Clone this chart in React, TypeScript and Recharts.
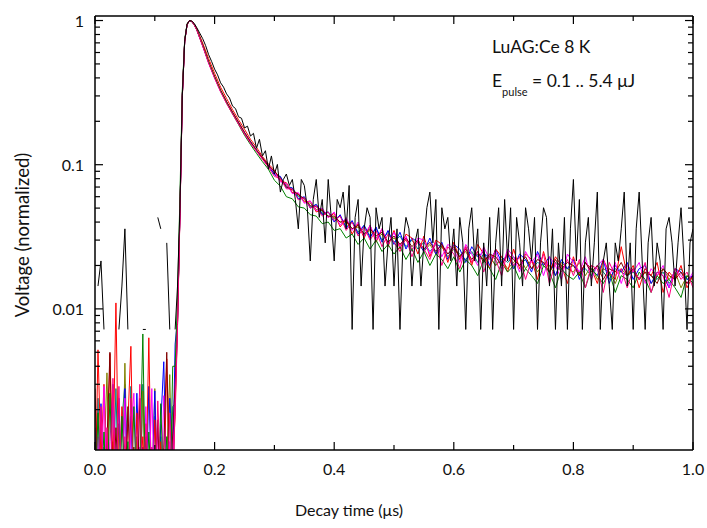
import React from 'react';
import { LineChart, Line, XAxis, YAxis } from 'recharts';

// sampling grids (µs)
const preTimes = [
  0, 0.005, 0.01, 0.015, 0.02, 0.025, 0.03, 0.035, 0.04, 0.045,
  0.05, 0.055, 0.06, 0.065, 0.07, 0.075, 0.08, 0.085, 0.09, 0.095,
  0.1, 0.105, 0.11, 0.115, 0.12, 0.125, 0.13,
];
const riseTimes = [0.134, 0.138, 0.142, 0.146, 0.15, 0.154, 0.158, 0.162, 0.166, 0.17];
const colorTailTimes = [
  0.18, 0.19, 0.2, 0.21, 0.22, 0.23, 0.24, 0.25, 0.26, 0.27,
  0.28, 0.29, 0.3, 0.31, 0.32, 0.33, 0.34, 0.35, 0.36, 0.37,
  0.38, 0.39, 0.4, 0.41, 0.42, 0.43, 0.44, 0.45, 0.46, 0.47,
  0.48, 0.49, 0.5, 0.51, 0.52, 0.53, 0.54, 0.55, 0.56, 0.57,
  0.58, 0.59, 0.6, 0.61, 0.62, 0.63, 0.64, 0.65, 0.66, 0.67,
  0.68, 0.69, 0.7, 0.71, 0.72, 0.73, 0.74, 0.75, 0.76, 0.77,
  0.78, 0.79, 0.8, 0.81, 0.82, 0.83, 0.84, 0.85, 0.86, 0.87,
  0.88, 0.89, 0.9, 0.91, 0.92, 0.93, 0.94, 0.95, 0.96, 0.97,
  0.98, 0.99, 1.0,
];
const blackTailTimes = [
  0.175, 0.18, 0.185, 0.19, 0.195, 0.2, 0.205, 0.21, 0.215, 0.22,
  0.225, 0.23, 0.235, 0.24, 0.245, 0.25, 0.255, 0.26, 0.265, 0.27,
  0.275, 0.28, 0.285, 0.29, 0.295, 0.3, 0.305, 0.31, 0.315, 0.32,
  0.325, 0.33, 0.335, 0.34, 0.345, 0.35, 0.355, 0.36, 0.365, 0.37,
  0.375, 0.38, 0.385, 0.39, 0.395, 0.4, 0.405, 0.41, 0.415, 0.42,
  0.425, 0.43, 0.435, 0.44, 0.445, 0.45, 0.455, 0.46, 0.465, 0.47,
  0.475, 0.48, 0.485, 0.49, 0.495, 0.5, 0.505, 0.51, 0.515, 0.52,
  0.525, 0.53, 0.535, 0.54, 0.545, 0.55, 0.555, 0.56, 0.565, 0.57,
  0.575, 0.58, 0.585, 0.59, 0.595, 0.6, 0.605, 0.61, 0.615, 0.62,
  0.625, 0.63, 0.635, 0.64, 0.645, 0.65, 0.655, 0.66, 0.665, 0.67,
  0.675, 0.68, 0.685, 0.69, 0.695, 0.7, 0.705, 0.71, 0.715, 0.72,
  0.725, 0.73, 0.735, 0.74, 0.745, 0.75, 0.755, 0.76, 0.765, 0.77,
  0.775, 0.78, 0.785, 0.79, 0.795, 0.8, 0.805, 0.81, 0.815, 0.82,
  0.825, 0.83, 0.835, 0.84, 0.845, 0.85, 0.855, 0.86, 0.865, 0.87,
  0.875, 0.88, 0.885, 0.89, 0.895, 0.9, 0.905, 0.91, 0.915, 0.92,
  0.925, 0.93, 0.935, 0.94, 0.945, 0.95, 0.955, 0.96, 0.965, 0.97,
  0.975, 0.98, 0.985, 0.99, 0.995, 1.0,
];

const colorTimes = [...preTimes, ...riseTimes, ...colorTailTimes];
const blackTimes = [...preTimes, ...riseTimes, ...blackTailTimes];

// lowest pulse energy, digitizer steps (null = zero signal)
const blackVolts = [
  null, 0.0144, 0.0215, 0.0072, null, null, null, null, 0.0072, 0.0144,
  0.0359, 0.0072, null, null, null, null, 0.0072, 0.0072, null, null,
  null, 0.0431, 0.0359, null, 0.0287, 0.0072, null,
  0.0072, 0.0144, 0.05, 0.3, 0.72, 0.94, 1.0, 0.99, 0.955, 0.895,
  0.82, 0.75, 0.67, 0.58, 0.52, 0.46, 0.42, 0.37, 0.345, 0.31,
  0.29, 0.255, 0.245, 0.215, 0.21, 0.18, 0.185, 0.158, 0.165, 0.13,
  0.15, 0.115, 0.125, 0.093, 0.115, 0.0862, 0.1005, 0.0646, 0.079, 0.0862,
  0.0718, 0.079, 0.0574, 0.0359, 0.079, 0.0718, 0.0503, 0.0215, 0.0574, 0.079,
  0.0431, 0.0574, 0.0287, 0.079, 0.0431, 0.0215, 0.0574, 0.0503, 0.0646, 0.0359,
  0.0718, 0.0072, 0.0431, 0.0574, 0.0144, 0.0359, 0.0503, 0.0431, 0.0072, 0.0503,
  0.0359, 0.0431, 0.0144, 0.0287, 0.0431, 0.0144, 0.0359, 0.0072, 0.0287, 0.0431,
  0.0359, 0.0144, 0.0287, 0.0359, 0.0144, 0.0287, 0.0503, 0.0646, 0.0287, 0.0574,
  0.0072, 0.0503, 0.0359, 0.0431, 0.0215, 0.0359, 0.0144, 0.0431, 0.0287, 0.0072,
  0.0359, 0.0503, 0.0215, 0.0359, 0.0072, 0.0287, 0.0144, 0.0431, 0.0072, 0.0287,
  0.0503, 0.0144, 0.0574, 0.0215, 0.0503, 0.0072, 0.0431, 0.0287, 0.0144, 0.0503,
  0.0359, 0.0215, 0.0431, 0.0072, 0.0287, 0.0503, 0.0431, 0.0144, 0.0359, 0.0072,
  0.0287, 0.0144, 0.0431, 0.0072, 0.0359, 0.079, 0.0215, 0.0574, 0.0072, 0.0287,
  0.0431, 0.0144, 0.0287, 0.0646, 0.0072, 0.0215, 0.0287, 0.0144, 0.0072, 0.0287,
  0.0215, 0.0359, 0.0646, 0.0144, 0.0287, 0.0072, 0.0359, 0.0646, 0.0215, 0.0072,
  0.0287, 0.0431, 0.0144, 0.0287, 0.0215, 0.0072, 0.0359, 0.0431, 0.0287, 0.0144,
  0.0287, 0.0503, 0.0215, 0.0072, 0.0287, 0.0359,
];

const redVolts = [
  0.0004, 0.0052, 0.0009, 0.003, 0.0006, 0.0049, 0.0008, 0.011, 0.0005, 0.0021,
  0.0007, 0.0016, 0.0055, 0.0004, 0.0019, 0.0006, 0.0013, 0.0005, 0.0063, 0.0004,
  0.0017, 0.0006, 0.0012, 0.0004, 0.0045, 0.0007, 0.0009,
  0.0018, 0.0075, 0.043, 0.29, 0.71, 0.93, 1.0, 0.99, 0.945, 0.885,
  0.7, 0.545, 0.43, 0.345, 0.288, 0.241, 0.205, 0.176, 0.15, 0.132, 0.114, 0.101,
  0.092, 0.077, 0.075, 0.064, 0.063, 0.055, 0.056, 0.047, 0.049, 0.043,
  0.046, 0.037, 0.042, 0.033, 0.039, 0.031, 0.038, 0.029, 0.036, 0.027,
  0.035, 0.026, 0.033, 0.031, 0.024, 0.032, 0.023, 0.03, 0.028, 0.021,
  0.029, 0.022, 0.027, 0.02, 0.028, 0.024, 0.019, 0.026, 0.023, 0.018,
  0.026, 0.019, 0.024, 0.022, 0.016, 0.025, 0.018, 0.023, 0.02, 0.015,
  0.023, 0.017, 0.021, 0.019, 0.015, 0.022, 0.018, 0.016, 0.027, 0.017,
  0.02, 0.014, 0.019, 0.017, 0.021, 0.013, 0.018, 0.016, 0.02, 0.014, 0.017,
];

const blueVolts = [
  0.0015, 0.0004, 0.0022, 0.0005, 0.0012, 0.0004, 0.003, 0.0006, 0.0024, 0.0004,
  0.0028, 0.0005, 0.0018, 0.0004, 0.0026, 0.0006, 0.0011, 0.0004, 0.0029, 0.0005,
  0.0027, 0.0004, 0.0016, 0.0043, 0.0005, 0.0024, 0.0008,
  0.0057, 0.0085, 0.046, 0.3, 0.72, 0.94, 1.0, 0.985, 0.935, 0.87,
  0.672, 0.512, 0.403, 0.325, 0.272, 0.229, 0.195, 0.166, 0.144, 0.126, 0.111, 0.099,
  0.085, 0.083, 0.069, 0.069, 0.058, 0.06, 0.05, 0.053, 0.045, 0.047,
  0.04, 0.045, 0.036, 0.041, 0.033, 0.038, 0.031, 0.037, 0.029, 0.035,
  0.028, 0.034, 0.026, 0.031, 0.029, 0.025, 0.031, 0.024, 0.029, 0.022,
  0.028, 0.026, 0.021, 0.027, 0.023, 0.025, 0.02, 0.026, 0.021, 0.024,
  0.019, 0.024, 0.022, 0.018, 0.025, 0.02, 0.023, 0.017, 0.022, 0.019,
  0.022, 0.016, 0.021, 0.019, 0.017, 0.022, 0.015, 0.02, 0.018, 0.021,
  0.016, 0.019, 0.02, 0.015, 0.018, 0.017, 0.014, 0.019, 0.018, 0.016, 0.017,
];

const greenVolts = [
  0.0004, 0.0019, 0.0005, 0.0014, 0.0004, 0.0026, 0.0005, 0.0009, 0.0004, 0.0018,
  0.0006, 0.0012, 0.0004, 0.0021, 0.0005, 0.0008, 0.0067, 0.0004, 0.0014, 0.0005,
  0.001, 0.0004, 0.0022, 0.0005, 0.0013, 0.0004, 0.004,
  0.004, 0.012, 0.06, 0.33, 0.74, 0.95, 1.0, 0.98, 0.93, 0.865,
  0.675, 0.515, 0.405, 0.325, 0.268, 0.225, 0.19, 0.16, 0.138, 0.12, 0.105, 0.093,
  0.078, 0.071, 0.06, 0.058, 0.051, 0.05, 0.045, 0.044, 0.039, 0.04,
  0.035, 0.036, 0.031, 0.033, 0.028, 0.031, 0.026, 0.03, 0.025, 0.028,
  0.024, 0.027, 0.022, 0.026, 0.021, 0.025, 0.02, 0.024, 0.022, 0.019,
  0.023, 0.018, 0.022, 0.02, 0.017, 0.022, 0.019, 0.016, 0.021, 0.018,
  0.02, 0.016, 0.019, 0.017, 0.015, 0.02, 0.018, 0.014, 0.019, 0.017,
  0.016, 0.018, 0.014, 0.019, 0.017, 0.015, 0.018, 0.013, 0.017, 0.016,
  0.014, 0.018, 0.016, 0.013, 0.017, 0.015, 0.016, 0.014, 0.012, 0.017, 0.015,
];

const magentaVolts = [
  0.0006, 0.0013, 0.0004, 0.0029, 0.0005, 0.0012, 0.0028, 0.0004, 0.001, 0.0005,
  0.0024, 0.0004, 0.0014, 0.0026, 0.0005, 0.0011, 0.0004, 0.0021, 0.0005, 0.0028,
  0.0004, 0.0015, 0.0005, 0.0025, 0.0004, 0.0012, 0.0006,
  0.0024, 0.008, 0.044, 0.3, 0.72, 0.94, 1.0, 0.982, 0.93, 0.865,
  0.668, 0.508, 0.4, 0.322, 0.268, 0.227, 0.193, 0.165, 0.142, 0.125, 0.11, 0.097,
  0.089, 0.076, 0.074, 0.063, 0.064, 0.054, 0.056, 0.048, 0.05, 0.043,
  0.047, 0.038, 0.043, 0.035, 0.04, 0.032, 0.038, 0.03, 0.036, 0.028,
  0.034, 0.027, 0.032, 0.025, 0.031, 0.03, 0.024, 0.029, 0.023, 0.028,
  0.026, 0.021, 0.028, 0.024, 0.02, 0.027, 0.022, 0.025, 0.019, 0.026,
  0.023, 0.018, 0.025, 0.021, 0.024, 0.017, 0.023, 0.02, 0.016, 0.024,
  0.021, 0.018, 0.023, 0.016, 0.02, 0.022, 0.017, 0.021, 0.015, 0.02,
  0.018, 0.021, 0.015, 0.019, 0.017, 0.02, 0.014, 0.019, 0.017, 0.015, 0.018,
];

const pinkVolts = [
  0.001, 0.0005, 0.0021, 0.0004, 0.0015, 0.0004, 0.0033, 0.0005, 0.0029, 0.0004,
  0.0013, 0.0005, 0.0024, 0.0004, 0.0009, 0.003, 0.0004, 0.0016, 0.0005, 0.0011,
  0.0004, 0.0023, 0.0006, 0.001, 0.0004, 0.0019, 0.0005,
  0.0021, 0.0078, 0.045, 0.3, 0.72, 0.94, 1.0, 0.98, 0.928, 0.862,
  0.665, 0.505, 0.398, 0.32, 0.266, 0.225, 0.191, 0.163, 0.141, 0.124, 0.109, 0.096,
  0.083, 0.08, 0.068, 0.068, 0.057, 0.059, 0.05, 0.052, 0.044, 0.047,
  0.041, 0.044, 0.035, 0.04, 0.032, 0.037, 0.03, 0.035, 0.027, 0.033,
  0.029, 0.025, 0.031, 0.023, 0.03, 0.026, 0.022, 0.029, 0.02, 0.027,
  0.024, 0.019, 0.027, 0.021, 0.025, 0.018, 0.024, 0.022, 0.017, 0.025,
  0.02, 0.023, 0.016, 0.022, 0.019, 0.024, 0.015, 0.021, 0.018, 0.022,
  0.017, 0.022, 0.014, 0.02, 0.019, 0.013, 0.021, 0.017, 0.019, 0.014,
  0.019, 0.016, 0.021, 0.013, 0.018, 0.017, 0.012, 0.019, 0.016, 0.018, 0.014,
];

const maroonVolts = [
  0.0028, 0.0004, 0.0009, 0.0005, 0.0012, 0.005, 0.0004, 0.0015, 0.0005, 0.001,
  0.0004, 0.0021, 0.0005, 0.0011, 0.0004, 0.0024, 0.0005, 0.0013, 0.0004, 0.0009,
  0.0005, 0.0017, 0.0004, 0.0011, 0.005, 0.0004, 0.0014,
  0.003, 0.0082, 0.046, 0.31, 0.73, 0.945, 1.0, 0.985, 0.938, 0.873,
  0.678, 0.518, 0.408, 0.329, 0.274, 0.231, 0.196, 0.167, 0.144, 0.126, 0.111, 0.098,
  0.09, 0.081, 0.07, 0.067, 0.062, 0.058, 0.052, 0.051, 0.048, 0.044,
  0.044, 0.04, 0.041, 0.036, 0.038, 0.033, 0.036, 0.032, 0.034, 0.029,
  0.032, 0.028, 0.031, 0.027, 0.03, 0.026, 0.029, 0.025, 0.028, 0.024,
  0.027, 0.023, 0.026, 0.022, 0.025, 0.021, 0.024, 0.023, 0.02, 0.024,
  0.022, 0.02, 0.023, 0.019, 0.022, 0.021, 0.018, 0.022, 0.019, 0.021,
  0.02, 0.017, 0.021, 0.018, 0.02, 0.016, 0.019, 0.018, 0.021, 0.017,
  0.019, 0.016, 0.018, 0.017, 0.015, 0.019, 0.017, 0.016, 0.018, 0.015, 0.017,
];

const tealVolts = [
  0.0004, 0.0024, 0.0005, 0.0011, 0.0004, 0.0008, 0.0005, 0.0028, 0.0004, 0.0017,
  0.003, 0.0004, 0.0029, 0.0005, 0.0012, 0.0004, 0.003, 0.0005, 0.0009, 0.0004,
  0.0018, 0.0005, 0.0013, 0.0004, 0.0008, 0.0005, 0.0021,
  0.0022, 0.0079, 0.045, 0.3, 0.72, 0.94, 1.0, 0.985, 0.937, 0.872,
  0.676, 0.516, 0.407, 0.328, 0.273, 0.231, 0.197, 0.168, 0.145, 0.127, 0.112, 0.099,
  0.087, 0.082, 0.071, 0.069, 0.06, 0.059, 0.051, 0.053, 0.046, 0.047,
  0.042, 0.044, 0.037, 0.04, 0.034, 0.038, 0.032, 0.036, 0.03, 0.034,
  0.029, 0.032, 0.027, 0.03, 0.026, 0.029, 0.025, 0.028, 0.027, 0.024,
  0.026, 0.024, 0.022, 0.025, 0.021, 0.024, 0.023, 0.02, 0.023, 0.021,
  0.023, 0.02, 0.022, 0.019, 0.021, 0.02, 0.018, 0.021, 0.02, 0.019,
  0.02, 0.018, 0.019, 0.017, 0.02, 0.018, 0.016, 0.019, 0.018, 0.017,
  0.018, 0.016, 0.019, 0.017, 0.016, 0.018, 0.015, 0.017, 0.019, 0.016, 0.017,
];

const oliveVolts = [
  0.0005, 0.001, 0.0004, 0.0008, 0.0036, 0.0004, 0.0012, 0.0005, 0.0016, 0.0004,
  0.0042, 0.0005, 0.0009, 0.0004, 0.0013, 0.0005, 0.0027, 0.0004, 0.001, 0.0005,
  0.0028, 0.0004, 0.0011, 0.0005, 0.0009, 0.0035, 0.0004,
  0.0026, 0.0081, 0.046, 0.3, 0.72, 0.94, 1.0, 0.984, 0.936, 0.871,
  0.674, 0.514, 0.405, 0.327, 0.272, 0.23, 0.196, 0.167, 0.144, 0.126, 0.111, 0.098,
  0.086, 0.079, 0.073, 0.064, 0.062, 0.056, 0.054, 0.049, 0.048, 0.044,
  0.043, 0.04, 0.04, 0.036, 0.037, 0.033, 0.035, 0.031, 0.033, 0.029,
  0.031, 0.028, 0.03, 0.026, 0.029, 0.025, 0.028, 0.024, 0.027, 0.023,
  0.026, 0.023, 0.025, 0.021, 0.024, 0.022, 0.023, 0.02, 0.022, 0.019,
  0.021, 0.023, 0.019, 0.022, 0.018, 0.021, 0.02, 0.017, 0.021, 0.019,
  0.018, 0.021, 0.017, 0.02, 0.016, 0.019, 0.018, 0.015, 0.019, 0.017,
  0.019, 0.016, 0.018, 0.015, 0.017, 0.019, 0.016, 0.018, 0.014, 0.017, 0.016,
];

const xTicks = [0, 0.1, 0.2, 0.3, 0.4, 0.5, 0.6, 0.7, 0.8, 0.9, 1.0];
const xMajor = [0, 0.2, 0.4, 0.6, 0.8, 1.0];
const yTicks = [
  0.002, 0.003, 0.004, 0.005, 0.006, 0.007, 0.008, 0.009,
  0.01, 0.02, 0.03, 0.04, 0.05, 0.06, 0.07, 0.08, 0.09,
  0.1, 0.2, 0.3, 0.4, 0.5, 0.6, 0.7, 0.8, 0.9, 1,
];
const yMajor = [0.01, 0.1, 1];
const yLabels: Record<string, string> = { '0.01': '0.01', '0.1': '0.1', '1': '1' };

const series = [
  { name: 'teal', color: '#008080', times: colorTimes, volts: tealVolts },
  { name: 'olive', color: '#808000', times: colorTimes, volts: oliveVolts },
  { name: 'blue', color: '#0000FF', times: colorTimes, volts: blueVolts },
  { name: 'red', color: '#FF0000', times: colorTimes, volts: redVolts },
  { name: 'magenta', color: '#FF00FF', times: colorTimes, volts: magentaVolts },
  { name: 'maroon', color: '#800000', times: colorTimes, volts: maroonVolts },
  { name: 'green', color: '#008000', times: colorTimes, volts: greenVolts },
  { name: 'pink', color: '#FF0080', times: colorTimes, volts: pinkVolts },
  { name: 'black', color: '#000000', times: blackTimes, volts: blackVolts },
];

const toRows = (times: number[], volts: (number | null)[]) =>
  times.map((t, i) => ({ t, v: volts[i] ?? null }));

const isMajor = (list: number[], v: number) => list.some((m) => Math.abs(m - v) < 1e-9);

const FONT = 'Lato, "Open Sans", sans-serif';
const W = 699;
const H = 510;
const Y_DOMAIN = [0.00105, 1.075];

const BottomTick = (props: any) => {
  const { x, y, payload } = props;
  const major = isMajor(xMajor, payload.value);
  return (
    <g>
      <line x1={x} y1={y} x2={x} y2={y - (major ? 8 : 5)} stroke="#000" strokeWidth={1.2} />
      {major && (
        <text x={x} y={y + 18} textAnchor="middle" dominantBaseline="central" fontSize={16} fontFamily={FONT} fill="#111">
          {payload.value.toFixed(1)}
        </text>
      )}
    </g>
  );
};

const TopTick = (props: any) => {
  const { x, y, payload } = props;
  const major = isMajor(xMajor, payload.value);
  return <line x1={x} y1={y} x2={x} y2={y + (major ? 8 : 5)} stroke="#000" strokeWidth={1.2} />;
};

const LeftTick = (props: any) => {
  const { x, y, payload } = props;
  const major = isMajor(yMajor, payload.value);
  return (
    <g>
      <line x1={x} y1={y} x2={x + (major ? 8 : 5)} y2={y} stroke="#000" strokeWidth={1.2} />
      {major && (
        <text x={x - 11} y={y} textAnchor="end" dominantBaseline="central" fontSize={16} fontFamily={FONT} fill="#111">
          {yLabels[String(payload.value)]}
        </text>
      )}
    </g>
  );
};

const RightTick = (props: any) => {
  const { x, y, payload } = props;
  const major = isMajor(yMajor, payload.value);
  return <line x1={x} y1={y} x2={x - (major ? 8 : 5)} y2={y} stroke="#000" strokeWidth={1.2} />;
};

const axisLine = { stroke: '#000', strokeWidth: 1.5 };

export default function App() {
  return (
    <div style={{ position: 'absolute', left: 8, top: 8, width: W, height: H, fontFamily: FONT, color: '#111' }}>
      <style>{'.recharts-surface { overflow: visible; } .recharts-wrapper { overflow: visible; }'}</style>
      <LineChart width={W} height={H} margin={{ top: 7, right: 13, bottom: 28, left: 0 }}>
        <XAxis
          xAxisId="b"
          type="number"
          dataKey="t"
          domain={[0, 1]}
          allowDataOverflow
          ticks={xTicks}
          interval={0}
          tickSize={0}
          tickMargin={0}
          tickLine={false}
          axisLine={axisLine}
          tick={BottomTick}
          height={40}
        />
        <XAxis
          xAxisId="top"
          orientation="top"
          type="number"
          dataKey="t"
          domain={[0, 1]}
          allowDataOverflow
          ticks={xTicks}
          interval={0}
          tickSize={0}
          tickMargin={0}
          tickLine={false}
          axisLine={axisLine}
          tick={TopTick}
          height={1}
        />
        <YAxis
          yAxisId="l"
          type="number"
          scale="log"
          domain={Y_DOMAIN}
          allowDataOverflow
          ticks={yTicks}
          interval={0}
          tickSize={0}
          tickMargin={0}
          tickLine={false}
          axisLine={axisLine}
          tick={LeftTick}
          width={87}
        />
        <YAxis
          yAxisId="r"
          orientation="right"
          type="number"
          scale="log"
          domain={Y_DOMAIN}
          allowDataOverflow
          ticks={yTicks}
          interval={0}
          tickSize={0}
          tickMargin={0}
          tickLine={false}
          axisLine={axisLine}
          tick={RightTick}
          width={1}
        />
        {series.map((s) => (
          <Line
            key={s.name}
            xAxisId="b"
            yAxisId="l"
            data={toRows(s.times, s.volts)}
            dataKey="v"
            type="linear"
            stroke={s.color}
            strokeWidth={1}
            dot={false}
            activeDot={false}
            isAnimationActive={false}
          />
        ))}
      </LineChart>

      <div style={{ position: 'absolute', left: 484, top: 29, fontSize: 17.5, lineHeight: '20px', whiteSpace: 'nowrap' }}>
        LuAG:Ce 8 K
      </div>
      <div style={{ position: 'absolute', left: 484, top: 63, fontSize: 17.5, lineHeight: '20px', whiteSpace: 'nowrap' }}>
        E<span style={{ fontSize: 11, position: 'relative', top: 9 }}>pulse</span> = 0.1 .. 5.4 μJ
      </div>
      <div
        style={{
          position: 'absolute',
          left: 14,
          top: 227,
          transform: 'translate(-50%, -50%) rotate(-90deg)',
          fontSize: 18.5,
          lineHeight: '20px',
          whiteSpace: 'nowrap',
        }}
      >
        Voltage (normalized)
      </div>
      <div
        style={{
          position: 'absolute',
          left: 0,
          width: 682,
          top: 493,
          textAlign: 'center',
          fontSize: 16,
          lineHeight: '17px',
          whiteSpace: 'nowrap',
        }}
      >
        Decay time (μs)
      </div>
    </div>
  );
}
